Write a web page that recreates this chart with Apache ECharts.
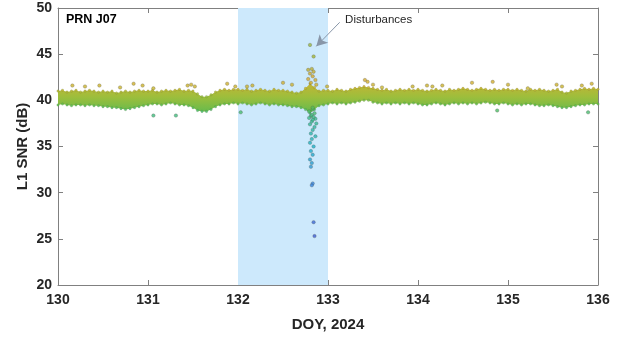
<!DOCTYPE html>
<html>
<head>
<meta charset="utf-8">
<script src="https://cdn.jsdelivr.net/npm/echarts@6/dist/echarts.min.js"></script>
<style>
  html, body { margin: 0; padding: 0; background: #fff; }
  #chart { width: 622px; height: 337px; }
</style>
</head>
<body>
<div id="chart"></div>
<script>
// band sampled every 0.05 day from DOY 130 to 136
const bandStart = 130;
const bandStep = 0.05;
const bandHigh = [
  41.0, 41.1, 40.9, 41.0, 41.1, 40.9, 41.0, 41.1, 41.0, 40.9,
  41.0, 40.9, 41.0, 40.8, 40.9, 41.0, 40.9, 41.0, 41.1, 41.0,
  41.0, 41.1, 40.9, 41.0, 41.1, 41.0, 41.1, 41.2, 41.0, 41.1,
  41.0, 40.7, 40.4, 40.4, 40.6, 40.9, 41.1, 41.2, 41.1, 41.2,
  41.2, 41.1, 41.2, 41.0, 41.1, 41.2, 41.1, 41.0, 41.2, 41.1,
  41.1, 41.0, 40.9, 40.8, 40.9, 41.3, 41.8, 41.4, 41.0, 41.1,
  41.1, 41.0, 41.2, 41.1, 41.0, 41.2, 41.3, 41.4, 41.5, 41.4,
  41.3, 41.2, 41.1, 41.2, 41.0, 41.1, 41.2, 41.1, 41.2, 41.1,
  41.2, 41.1, 41.0, 41.1, 41.2, 41.1, 41.0, 41.2, 41.1, 41.2,
  41.3, 41.2, 41.1, 41.2, 41.3, 41.2, 41.1, 41.2, 41.1, 41.2,
  41.2, 41.1, 41.2, 41.1, 41.0, 41.2, 41.1, 41.2, 41.1, 41.0,
  41.1, 41.2, 40.9, 40.8, 41.0, 41.1, 41.2, 41.3, 41.2, 41.3,
  41.2
];
const bandLow = [
  39.5, 39.6, 39.5, 39.4, 39.5, 39.5, 39.4, 39.5, 39.4, 39.4,
  39.3, 39.3, 39.2, 39.2, 39.1, 39.0, 39.1, 39.2, 39.3, 39.4,
  39.5, 39.6, 39.6, 39.5, 39.6, 39.7, 39.6, 39.5, 39.5, 39.4,
  39.2, 38.9, 38.8, 38.8, 39.0, 39.3, 39.5, 39.6, 39.6, 39.7,
  39.6, 39.7, 39.6, 39.5, 39.6, 39.7, 39.6, 39.5, 39.6, 39.5,
  39.5, 39.4, 39.3, 39.3, 39.2, 39.0, 38.6, 39.0, 39.4, 39.5,
  39.6, 39.7, 39.6, 39.7, 39.6, 39.7, 39.8, 39.9, 40.0, 40.0,
  39.8, 39.7, 39.6, 39.7, 39.6, 39.7, 39.6, 39.7, 39.6, 39.7,
  39.6, 39.5, 39.5, 39.6, 39.7, 39.6, 39.5, 39.6, 39.7, 39.6,
  39.7, 39.6, 39.7, 39.6, 39.7, 39.8, 39.7, 39.6, 39.6, 39.7,
  39.6, 39.5, 39.6, 39.5, 39.6, 39.6, 39.5, 39.4, 39.4, 39.5,
  39.4, 39.3, 39.2, 39.2, 39.3, 39.4, 39.5, 39.5, 39.6, 39.6,
  39.6
];

// isolated samples outside the band
const outlierDoy = [130.16, 130.30, 130.46, 130.69, 130.84, 130.94, 131.06, 131.44, 131.48, 131.52,
  131.88, 131.97, 132.16, 132.10, 132.50, 132.60, 132.99, 133.41, 133.44, 133.50, 133.60, 133.94,
  134.10, 134.16, 134.27, 134.60, 134.83, 135.00, 135.22, 135.54, 135.60, 135.82, 135.93,
  131.06, 131.31, 132.03, 134.88, 135.89];
const outlierSnr = [41.6, 41.5, 41.6, 41.4, 41.8, 41.6, 41.3, 41.6, 41.7, 41.5,
  41.8, 41.5, 41.6, 41.5, 41.9, 41.7, 41.5, 42.2, 42.0, 41.7, 41.4, 41.5,
  41.6, 41.5, 41.6, 41.9, 42.0, 41.7, 41.3, 41.7, 41.5, 41.6, 41.8,
  38.35, 38.35, 38.7, 38.9, 38.7];

// disturbance on DOY 132.8
const spikeDoy = [132.80, 132.84, 132.78, 132.82, 132.84, 132.80, 132.83, 132.78, 132.86, 132.81, 132.87,
  132.83, 132.85, 132.81, 132.86, 132.82, 132.80, 132.85, 132.83, 132.81, 132.86, 132.82,
  132.80, 132.84, 132.81, 132.83, 132.80, 132.82, 132.81, 132.79, 132.82, 132.83, 132.83,
  132.84, 132.83, 132.82, 132.84, 132.85, 132.79, 132.87];
const spikeSnr = [46.0, 44.75, 43.3, 43.4, 43.1, 42.9, 42.6, 42.3, 42.2, 41.9, 41.7,
  39.0, 38.6, 38.3, 38.0, 37.7, 37.4, 37.1, 36.8, 36.4, 36.1, 35.8,
  35.4, 35.0, 34.5, 34.1, 33.6, 33.2, 32.8, 38.8, 38.4, 37.9, 39.2,
  38.2, 31.0, 30.8, 26.8, 25.3, 38.1, 37.5];

const xTicks = [130, 131, 132, 133, 134, 135, 136];
const yTicks = [20, 25, 30, 35, 40, 45, 50];

const stops = [[25, '#3e5ccf'], [31, '#3a86dc'], [35, '#1fb0c8'], [38, '#38bb90'],
  [39.5, '#5dbf4b'], [40.5, '#98c03a'], [41.3, '#c9b62e'], [42.5, '#d6a52c'], [44, '#a8b434'], [46, '#9ab43a']];

function hexToRgb(h) {
  return [parseInt(h.slice(1, 3), 16), parseInt(h.slice(3, 5), 16), parseInt(h.slice(5, 7), 16)];
}
function snrColor(v) {
  if (v <= stops[0][0]) return stops[0][1];
  for (let i = 1; i < stops.length; i++) {
    if (v <= stops[i][0]) {
      const a = stops[i - 1], b = stops[i];
      const t = (v - a[0]) / (b[0] - a[0]);
      const ca = hexToRgb(a[1]), cb = hexToRgb(b[1]);
      const c = ca.map((x, k) => Math.round(x + (cb[k] - x) * t));
      return 'rgb(' + c.join(',') + ')';
    }
  }
  return stops[stops.length - 1][1];
}

const bandDoy = bandHigh.map((_, i) => +(bandStart + i * bandStep).toFixed(2));
const highData = bandDoy.map((d, i) => [d, bandHigh[i]]);
const lowData = bandDoy.map((d, i) => [d, bandLow[i]]);
const outlierData = outlierDoy.map((d, i) => [d, outlierSnr[i]]);
const spikeData = spikeDoy.map((d, i) => [d, spikeSnr[i]]);

const textColor = '#262626';
const axisColor = '#808080';
const font = 'Liberation Sans, Arial, sans-serif';

const dotStyle = {
  color: (p) => snrColor(p.value[1]),
  borderColor: 'rgba(80,80,70,0.55)',
  borderWidth: 0.6
};
const edgeStyle = {
  color: (p) => snrColor(p.value[1]),
  borderColor: 'rgba(90,90,70,0.35)',
  borderWidth: 0.5,
  opacity: 0.85
};

// band polygon: upper edge forward, lower edge back
function renderBand(params, api) {
  const pts = [];
  for (let i = 0; i < highData.length; i++) pts.push(api.coord(highData[i]));
  for (let i = lowData.length - 1; i >= 0; i--) pts.push(api.coord(lowData[i]));
  return {
    type: 'polygon',
    shape: { points: pts },
    style: {
      fill: new echarts.graphic.LinearGradient(0, 0, 0, 1, [
        { offset: 0, color: '#c2b535' },
        { offset: 0.45, color: '#9dbe3c' },
        { offset: 1, color: '#62bb4e' }
      ])
    }
  };
}

const chart = echarts.init(document.getElementById('chart'));

const baseX = {
  type: 'value', min: 130, max: 136, interval: 1,
  splitLine: { show: false },
  axisLine: { show: true, onZero: false, lineStyle: { color: axisColor, width: 1 } },
  axisTick: { show: true, inside: true, length: 5, lineStyle: { color: axisColor } }
};
const baseY = {
  type: 'value', min: 20, max: 50, interval: 5,
  splitLine: { show: false },
  axisLine: { show: true, onZero: false, lineStyle: { color: axisColor, width: 1 } },
  axisTick: { show: true, inside: true, length: 5, lineStyle: { color: axisColor } }
};

chart.setOption({
  animation: false,
  textStyle: { fontFamily: font },
  grid: { left: 58, right: 24, top: 8, bottom: 51 },
  xAxis: [
    Object.assign({}, baseX, {
      position: 'bottom',
      name: 'DOY, 2024', nameLocation: 'middle', nameGap: 32, nameMoveOverlap: false,
      nameTextStyle: { color: textColor, fontSize: 15, fontWeight: 'bold', fontFamily: font },
      axisLabel: { color: textColor, fontSize: 14, fontWeight: 'bold', margin: 8,
        formatter: (v) => xTicks.includes(v) ? String(v) : '' }
    }),
    Object.assign({}, baseX, { position: 'top', axisLabel: { show: false } })
  ],
  yAxis: [
    Object.assign({}, baseY, {
      position: 'left',
      name: 'L1 SNR (dB)', nameLocation: 'middle', nameGap: 28, nameMoveOverlap: false,
      nameTextStyle: { color: textColor, fontSize: 15, fontWeight: 'bold', fontFamily: font },
      axisLabel: { color: textColor, fontSize: 14, fontWeight: 'bold', margin: 6,
        formatter: (v) => yTicks.includes(v) ? String(v) : '' }
    }),
    Object.assign({}, baseY, { position: 'right', axisLabel: { show: false } })
  ],
  series: [
    {
      type: 'scatter', data: [], z: 1, silent: true,
      markArea: {
        silent: true,
        itemStyle: { color: '#cde9fc' },
        data: [[{ xAxis: 132 }, { xAxis: 133 }]]
      },
      markLine: {
        silent: true, symbol: ['none', 'arrow'], symbolSize: [9, 11],
        lineStyle: { color: '#8896a8', width: 1, type: 'solid' },
        label: { show: false },
        data: [[{ coord: [133.13, 48.45] }, { coord: [132.87, 45.85] }]]
      }
    },
    {
      type: 'custom', data: [0], z: 2, silent: true,
      renderItem: renderBand
    },
    { type: 'scatter', data: highData.concat(lowData), symbolSize: 2.5, z: 3, itemStyle: edgeStyle },
    { type: 'scatter', data: outlierData, symbolSize: 3.5, z: 4, itemStyle: dotStyle },
    { type: 'scatter', data: spikeData, symbolSize: 3.5, z: 5, itemStyle: dotStyle }
  ]
});

const pos = chart.convertToPixel({ xAxisIndex: 0, yAxisIndex: 0 }, [133.19, 48.7]);
chart.setOption({
  graphic: [
    { type: 'text', left: 66, top: 13,
      style: { text: 'PRN J07', fill: '#000', font: 'bold 12.5px ' + font } },
    { type: 'text', x: pos[0], y: pos[1], style: { text: 'Disturbances', fill: textColor,
      font: '11.5px ' + font, textVerticalAlign: 'middle' } }
  ]
});
</script>
</body>
</html>
